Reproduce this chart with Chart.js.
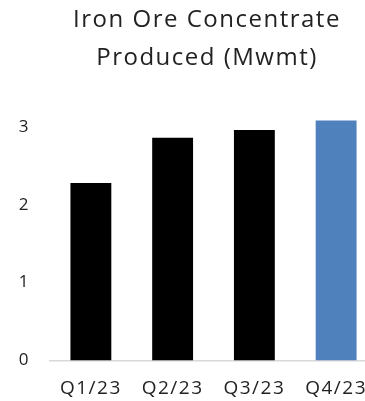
<!DOCTYPE html>
<html>
<head>
<meta charset="utf-8">
<script src="https://cdn.jsdelivr.net/npm/chart.js@4"></script>
<style>
html,body{margin:0;padding:0;background:#fff;overflow:hidden;width:365px;height:401px;}
canvas{display:block;}
</style>
</head>
<body>
<canvas id="c" width="414" height="401"></canvas>
<script>
const titleLines = ["Iron Ore Concentrate", "Produced (Mwmt)"];
const categories = ["Q1/23", "Q2/23", "Q3/23", "Q4/23"];
const produced = [2.28, 2.86, 2.96, 3.08];
const barColors = ["#000000", "#000000", "#000000", "#4f81bd"];
const yTicks = [0, 1, 2, 3];

const FONT = "'Open Sans', 'DejaVu Sans', sans-serif";

const spacing = {
  id: 'spacing',
  beforeDraw(chart) { chart.ctx.letterSpacing = '1.5px'; },
  afterDraw(chart) { chart.ctx.letterSpacing = '0px'; }
};

new Chart(document.getElementById('c'), {
  type: 'bar',
  data: {
    labels: categories,
    datasets: [{
      data: produced,
      backgroundColor: barColors,
      borderWidth: 0,
      barPercentage: 0.5,
      categoryPercentage: 1.0
    }]
  },
  plugins: [spacing],
  options: {
    responsive: false,
    animation: false,
    devicePixelRatio: 1,
    layout: { padding: 0 },
    plugins: {
      legend: { display: false },
      tooltip: { enabled: false },
      title: {
        display: true,
        text: titleLines,
        color: '#222222',
        font: { family: FONT, size: 24, weight: '400', lineHeight: 1.58 },
        padding: { top: 1, bottom: 11 }
      }
    },
    scales: {
      x: {
        grid: { display: false, drawTicks: false },
        border: { display: true, color: '#d9d9d9', width: 1.5 },
        ticks: {
          color: '#222222',
          font: { family: FONT, size: 19, weight: '400' },
          padding: 17,
          maxRotation: 0,
          autoSkip: false
        },
        afterFit: s => { s.height = 40.5; }
      },
      y: {
        min: 0,
        max: 3.5,
        grid: { display: false, drawTicks: false },
        border: { display: false },
        afterBuildTicks: s => { s.ticks = yTicks.map(v => ({ value: v })); },
        ticks: {
          color: '#222222',
          font: { family: FONT, size: 17, weight: '400' },
          padding: 20
        },
        afterFit: s => { s.width = 50; }
      },
      spacer: {
        type: 'linear',
        position: 'right',
        display: true,
        grid: { display: false, drawTicks: false },
        border: { display: false },
        ticks: { display: false },
        afterFit: s => { s.width = 37; }
      }
    }
  }
});
</script>
</body>
</html>
